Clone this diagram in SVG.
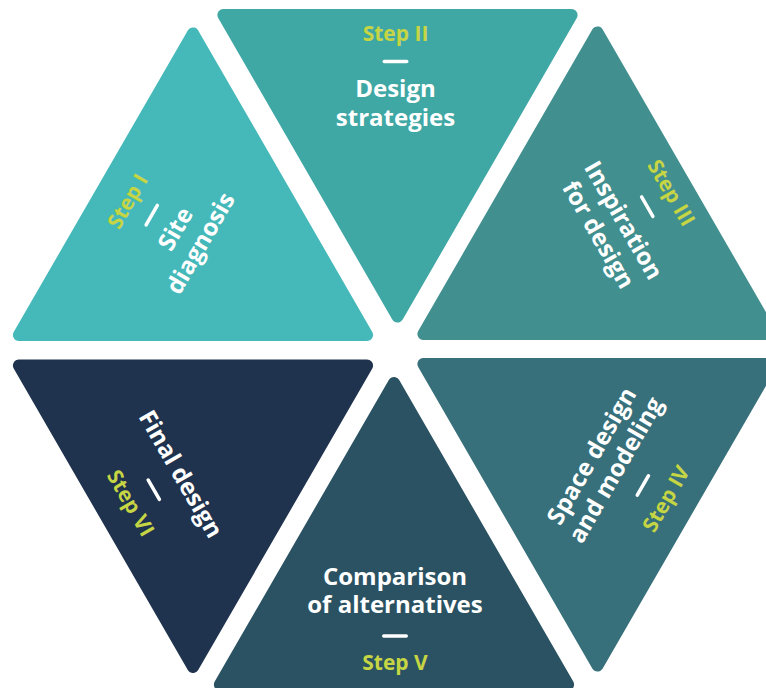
<svg xmlns="http://www.w3.org/2000/svg" width="766" height="688" viewBox="0 0 766 688">
<style>
.tri{stroke-width:12;stroke-linejoin:round}
.t1{fill:#45b9b9;stroke:#45b9b9}
.t2{fill:#3fa7a4;stroke:#3fa7a4}
.t3{fill:#428f8f;stroke:#428f8f}
.t4{fill:#37707a;stroke:#37707a}
.t5{fill:#2a5262;stroke:#2a5262}
.t6{fill:#20334e;stroke:#20334e}
.step{font-family:"Open Sans","Liberation Sans",sans-serif;font-weight:700;font-size:21px;fill:#c6d544;text-anchor:middle}
.lbl{font-family:"Open Sans","Liberation Sans",sans-serif;font-weight:700;font-size:24px;fill:#ffffff;text-anchor:middle}
.dash{stroke:#ffffff;stroke-width:3.5;stroke-linecap:round}
</style>
<rect width="766" height="688" fill="#ffffff"/>
<g id="connectors"/>
<g id="step1">
<polygon class="tri t1" points="193,33.4 18.9,335 367.1,335"/>
<g transform="rotate(-60)">
<text class="step" x="-110.5" y="218.5">Step I</text>
<line class="dash" x1="-121.75" y1="239" x2="-99.25" y2="239"/>
<text class="lbl" x="-110.5" y="274.5">Site</text>
<text class="lbl" x="-110.5" y="303.5">diagnosis</text>
</g>
</g>
<g id="step2">
<polygon class="tri t2" points="223.4,15 571.6,15 397.5,316.6"/>
<text class="step" x="395.5" y="41">Step II</text>
<line class="dash" x1="384.25" y1="61.5" x2="406.75" y2="61.5"/>
<text class="lbl" x="395.5" y="97">Design</text>
<text class="lbl" x="395.5" y="126">strategies</text>
</g>
<g id="step3">
<polygon class="tri t3" points="597.5,32.4 423.4,334 771.6,334"/>
<g transform="rotate(60)">
<text class="step" x="502.6" y="-477.7">Step III</text>
<line class="dash" x1="491.35" y1="-457.2" x2="513.85" y2="-457.2"/>
<text class="lbl" x="502.6" y="-421.7">Inspiration</text>
<text class="lbl" x="502.6" y="-392.7">for design</text>
</g>
</g>
<g id="step4">
<polygon class="tri t4" points="423.4,364 771.6,364 597.5,665.6"/>
<g transform="rotate(-60)">
<text class="lbl" x="-99" y="748.5">Space design</text>
<text class="lbl" x="-99" y="776.5">and modeling</text>
<line class="dash" x1="-110.25" y1="799.5" x2="-87.75" y2="799.5"/>
<text class="step" x="-99" y="833.5">Step IV</text>
</g>
</g>
<g id="step5">
<polygon class="tri t5" points="394,383 219.9,684.6 568.1,684.6"/>
<text class="lbl" x="395" y="585">Comparison</text>
<text class="lbl" x="395" y="613">of alternatives</text>
<line class="dash" x1="383.75" y1="636" x2="406.25" y2="636"/>
<text class="step" x="395" y="670">Step V</text>
</g>
<g id="step6">
<polygon class="tri t6" points="18.9,365.5 367.1,365.5 193,667"/>
<g transform="rotate(60)">
<text class="lbl" x="501" y="88.7">Final design</text>
<line class="dash" x1="489.75" y1="111.7" x2="512.25" y2="111.7"/>
<text class="step" x="501" y="145.7">Step VI</text>
</g>
</g>
</svg>
